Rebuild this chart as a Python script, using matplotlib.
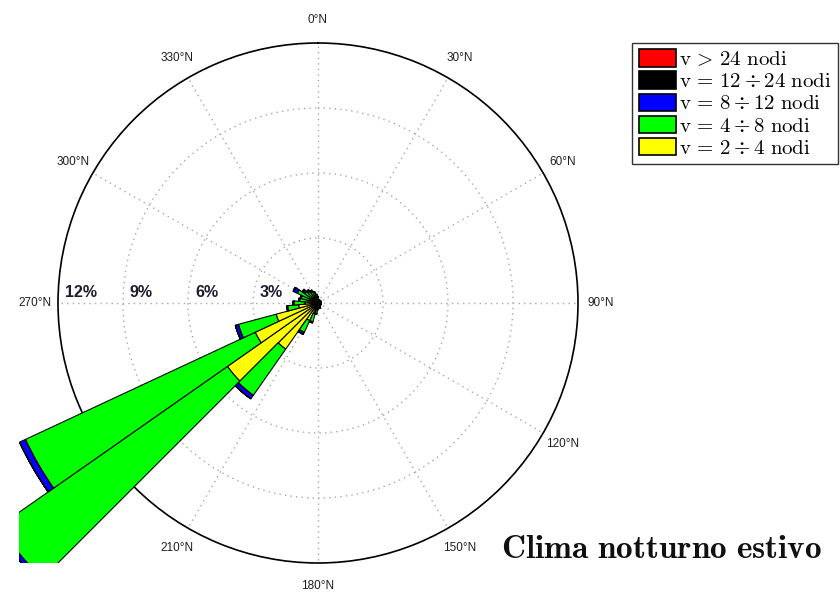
import numpy as np
import matplotlib
matplotlib.use("Agg")
import matplotlib.pyplot as plt
from matplotlib.patches import Patch
from matplotlib.transforms import Bbox, TransformedBbox

plt.rcParams["mathtext.fontset"] = "cm"

# wind direction bins (deg from N), frequency in % per speed class
directions = [0, 10, 20, 30, 40, 50, 60, 70, 80, 90, 100, 110,
              120, 130, 140, 150, 160, 170, 180, 190, 200, 210, 220, 230,
              240, 250, 260, 270, 280, 290, 300, 310, 320, 330, 340, 350]
v_2_4 = [0.20, 0.10, 0.10, 0.10, 0.10, 0.10, 0.10, 0.10, 0.10, 0.10, 0.10, 0.10,
         0.10, 0.10, 0.10, 0.10, 0.15, 0.15, 0.20, 0.30, 0.50, 0.90, 2.60, 5.10,
         3.20, 2.00, 0.90, 0.60, 0.45, 0.40, 0.45, 0.35, 0.30, 0.30, 0.25, 0.20]
v_4_8 = [0.10, 0.05, 0.05, 0.05, 0.05, 0.05, 0.05, 0.05, 0.05, 0.05, 0.05, 0.05,
         0.05, 0.05, 0.05, 0.10, 0.10, 0.10, 0.10, 0.20, 0.40, 0.60, 2.60, 12.90,
         11.70, 1.80, 0.50, 0.50, 0.40, 0.40, 0.60, 0.40, 0.35, 0.30, 0.25, 0.20]
v_8_12 = [0.0, 0.0, 0.0, 0.0, 0.0, 0.0, 0.0, 0.0, 0.0, 0.0, 0.0, 0.0,
          0.0, 0.0, 0.0, 0.0, 0.0, 0.0, 0.0, 0.02, 0.05, 0.10, 0.20, 0.20,
          0.30, 0.15, 0.05, 0.05, 0.05, 0.05, 0.20, 0.10, 0.05, 0.03, 0.02, 0.0]
v_12_24 = [0.0] * 30 + [0.02, 0.05, 0.05, 0.03, 0.02, 0.0]
v_24 = [0.0] * 36

classes = [
    (v_2_4, "#ffff00", r"$\mathrm{v}\,=\,2\div4\ \mathrm{nodi}$"),
    (v_4_8, "#00ff00", r"$\mathrm{v}\,=\,4\div8\ \mathrm{nodi}$"),
    (v_8_12, "#0000ff", r"$\mathrm{v}\,=\,8\div12\ \mathrm{nodi}$"),
    (v_12_24, "#000000", r"$\mathrm{v}\,=\,12\div24\ \mathrm{nodi}$"),
    (v_24, "#ff0000", r"$\mathrm{v}\,>\,24\ \mathrm{nodi}$"),
]

rings = [3, 6, 9, 12]

fig = plt.figure(figsize=(8.4, 5.97), dpi=100)
ax = fig.add_axes([58 / 840, 34 / 597, 520 / 840, 520 / 597], projection="polar")
ax.set_theta_zero_location("N")
ax.set_theta_direction(-1)
ax.set_axisbelow(True)

theta = np.radians(directions)
width = np.radians(10)
bottom = np.zeros(len(directions))
# bars may run past the 12% circle; clip only to the figure area
clip = TransformedBbox(Bbox([[0.19, 0.34], [8.4, 5.97]]), fig.dpi_scale_trans)
for vals, col, lab in classes:
    vals = np.array(vals)
    bars = ax.bar(theta, vals, width=width, bottom=bottom, color=col,
                  edgecolor="black", linewidth=0.8, zorder=3)
    for p in bars:
        p.set_clip_path(None)
        p.set_clip_box(clip)
    bottom += vals

ax.set_ylim(0, 12)
ax.set_yticks(rings)
ax.set_yticklabels([])
ax.set_xticks(np.radians(np.arange(0, 360, 30)))
ax.set_xticklabels([])
ax.grid(True, color="#a8a8a8", linestyle=(0, (1, 3)), linewidth=1)
ax.spines["polar"].set_color("black")
ax.spines["polar"].set_linewidth(1.2)
ax.spines["polar"].set_zorder(2.5)

for ang in range(0, 360, 30):
    ax.text(np.radians(ang), 13.05, f"{ang}°N", ha="center", va="center",
            fontsize=8.5, family="Liberation Sans", color="#202020", zorder=1)

for r in rings:
    ax.annotate(f"{r}%", xy=(np.radians(270), r - 0.32), xytext=(0, 7.5),
                textcoords="offset points", ha="left", va="center",
                fontsize=11.5, fontweight="bold", family="Liberation Sans",
                color="#1c1c2e", zorder=5)

handles = [Patch(facecolor=c, edgecolor="black", linewidth=1.2, label=l)
           for _, c, l in classes][::-1]
fig.legend(handles=handles, loc="upper right",
           bbox_to_anchor=(838 / 840, 1 - 43 / 597), bbox_transform=fig.transFigure,
           borderaxespad=0, fontsize=15, handlelength=1.8, handleheight=0.9,
           handletextpad=0.15, labelspacing=0.1, borderpad=0.3,
           fancybox=False, frameon=True, edgecolor="#333333", framealpha=1)

fig.text(662 / 840, 1 - 548 / 597, r"$\mathbf{Clima\ notturno\ estivo}$",
         ha="center", va="center", fontsize=24, color="#101010")

fig.savefig("out.png", dpi=100)
